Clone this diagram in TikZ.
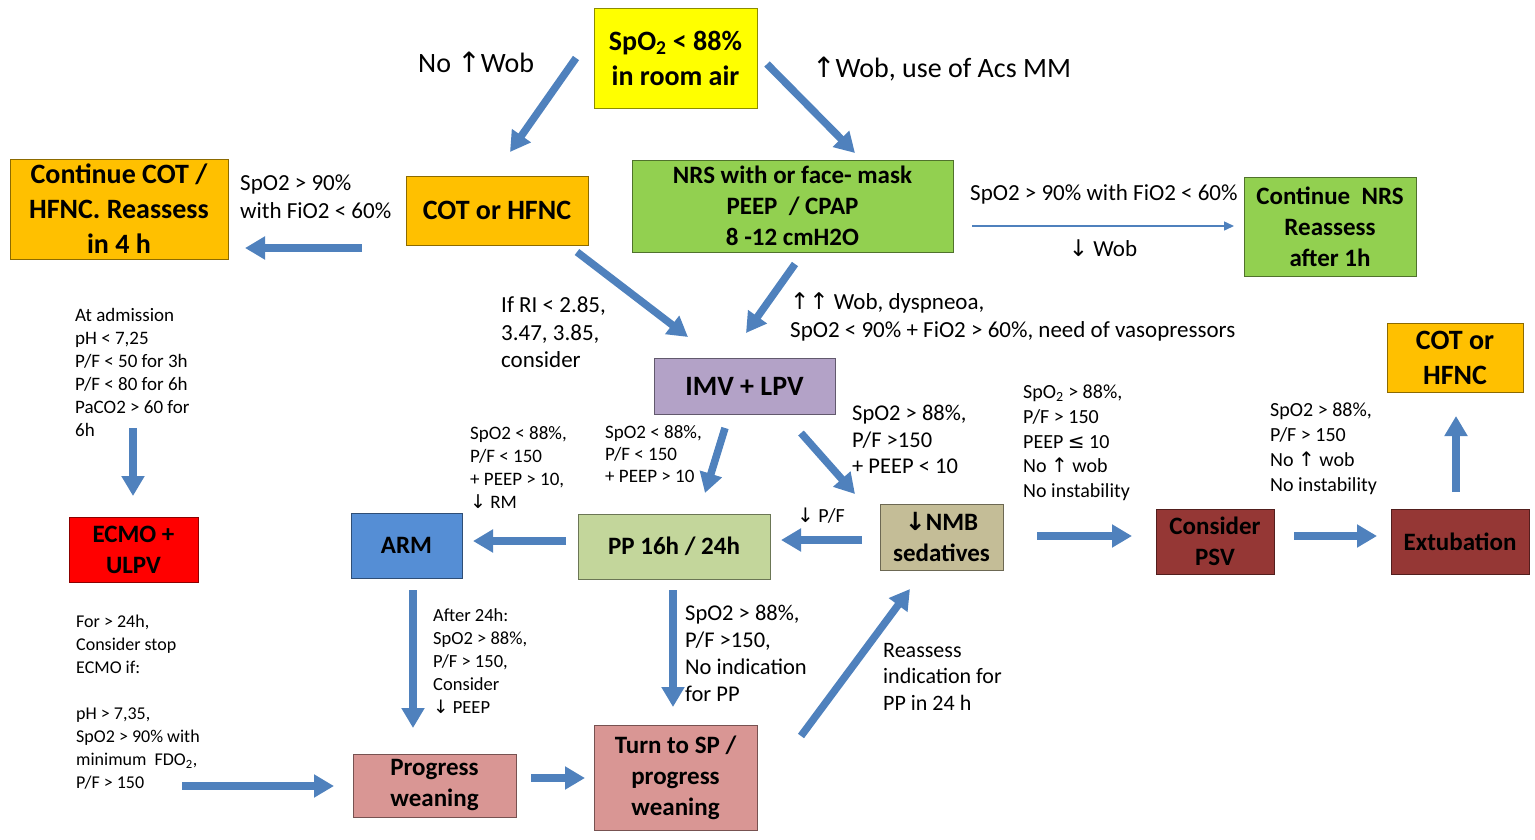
\documentclass[tikz,border=0pt]{standalone}
\usepackage{fontspec}
\setmainfont{Carlito}
\newfontfamily\symf{DejaVu Sans}
\usetikzlibrary{arrows.meta}
\definecolor{cyel}{HTML}{FFFF00}
\definecolor{corg}{HTML}{FFC000}
\definecolor{cgrn}{HTML}{92D050}
\definecolor{cpur}{HTML}{B3A2C7}
\definecolor{cred}{HTML}{FF0000}
\definecolor{cblu}{HTML}{558ED5}
\definecolor{clgr}{HTML}{C3D69B}
\definecolor{ctan}{HTML}{C4BD97}
\definecolor{cdrd}{HTML}{953735}
\definecolor{cpnk}{HTML}{D99694}
\definecolor{arrowblue}{HTML}{4F81BD}
\newcommand\myup{{\symf ↑}}
\newcommand\mydown{{\symf ↓}}
\newcommand\myle{{\symf ≤}}
\tikzset{
  box/.style={draw=#1!55!black, fill=#1, line width=1pt, inner sep=0pt, align=center, text=black},
  bigtxt/.style={font=\fontsize{28}{35}\selectfont\bfseries},
  medtxt/.style={font=\fontsize{25}{31}\selectfont\bfseries},
  lbl/.style={inner sep=0pt, align=left, anchor=north west},
  fat/.style={draw=arrowblue, line width=7.5pt, -{Triangle[length=20pt,width=22pt]}},
  thin/.style={draw=arrowblue, line width=1.5pt, -{Triangle[length=10pt,width=9pt]}}
}
\begin{document}
\begin{tikzpicture}[x=1pt,y=-1pt]
\useasboundingbox (0,0) rectangle (1535,839);
% boxes
\node[box=cyel, bigtxt, minimum width=163pt, minimum height=100pt] (spo2) at (675.5,58) {SpO\textsubscript{2} < 88\%\\in room air};
\node[box=corg, bigtxt, minimum width=218pt, minimum height=100pt] (cont) at (119,209) {Continue COT /\\HFNC. Reassess\\in 4 h};
\node[box=corg, bigtxt, minimum width=182pt, minimum height=69pt] (cot) at (497,210.5) {COT or HFNC};
\node[box=cgrn, medtxt, minimum width=321pt, minimum height=92pt] (nrs) at (792.5,206) {NRS with or face- mask\\PEEP~ / CPAP\\8 -12 cmH2O};
\node[box=cgrn, medtxt, minimum width=172pt, minimum height=99pt] (contnrs) at (1330,226.5) {Continue~ NRS\\Reassess\\after 1h};
\node[box=cpur, bigtxt, minimum width=181pt, minimum height=56pt] (imv) at (744.5,386) {IMV + LPV};
\node[box=corg, bigtxt, minimum width=136pt, minimum height=69pt] (cot2) at (1455,357.5) {COT or\\HFNC};
\node[box=cred, medtxt, minimum width=129pt, minimum height=65pt] (ecmo) at (133.5,549.5) {ECMO +\\ULPV};
\node[box=cblu, medtxt, minimum width=111pt, minimum height=65pt] (arm) at (406.5,545.5) {ARM};
\node[box=clgr, medtxt, minimum width=192pt, minimum height=65pt] (pp) at (674,546.5) {PP 16h / 24h};
\node[box=ctan, medtxt, minimum width=123pt, minimum height=66pt] (nmb) at (941.5,537) {\mydown NMB\\sedatives};
\node[box=cdrd, medtxt, minimum width=118pt, minimum height=65pt] (psv) at (1215,541.5) {Consider\\PSV};
\node[box=cdrd, medtxt, minimum width=138pt, minimum height=65pt] (extub) at (1460,541.5) {Extubation};
\node[box=cpnk, medtxt, minimum width=163pt, minimum height=63pt] (prog) at (434.5,785.5) {Progress\\weaning};
\node[box=cpnk, medtxt, minimum width=163pt, minimum height=105pt] (turn) at (675.5,777.5) {Turn to SP /\\progress\\weaning};
% labels
\node[inner sep=0pt, anchor=west, font=\fontsize{28}{33}\selectfont] (l1) at (418,62) {No \myup Wob};
\node[inner sep=0pt, anchor=west, font=\fontsize{28}{33}\selectfont] (l2) at (812,69) {\myup Wob, use of Acs MM};
\node[lbl, font=\fontsize{23}{28}\selectfont] (l3) at (240,175) {SpO2 > 90\%\\with FiO2 < 60\%};
\node[inner sep=0pt, anchor=west, font=\fontsize{23}{28}\selectfont] (l4) at (970,194) {SpO2 > 90\% with FiO2 < 60\%};
\node[inner sep=0pt, font=\fontsize{23}{28}\selectfont] (l5) at (1103,248) {\mydown\ Wob};
\node[lbl, font=\fontsize{23}{27.5}\selectfont] (l6) at (501,297) {If RI < 2.85,\\3.47, 3.85,\\consider};
\node[lbl, font=\fontsize{23}{28}\selectfont] (l7) at (790,292) {\myup\myup\ Wob, dyspneoa,\\SpO2 < 90\% + FiO2 > 60\%, need of vasopressors};
\node[lbl, font=\fontsize{19}{23}\selectfont] (l8) at (75,308) {At admission\\pH < 7,25\\P/F < 50 for 3h\\P/F < 80 for 6h\\PaCO2 > 60 for\\6h};
\node[lbl, font=\fontsize{19}{23}\selectfont] (l9) at (470,426) {SpO2 < 88\%,\\P/F < 150\\+ PEEP > 10,\\\mydown\ RM};
\node[lbl, font=\fontsize{19}{22}\selectfont] (l10) at (605,425) {SpO2 < 88\%,\\P/F < 150\\+ PEEP > 10};
\node[lbl, font=\fontsize{22.5}{26.5}\selectfont] (l11) at (852,405) {SpO2 > 88\%,\\P/F >150\\+ PEEP < 10};
\node[lbl, font=\fontsize{20}{24.7}\selectfont] (l12) at (1023,385) {SpO\textsubscript{2} > 88\%,\\P/F > 150\\PEEP \myle\ 10\\No \myup\ wob\\No instability};
\node[lbl, font=\fontsize{20}{24}\selectfont] (l13) at (797,508) {\mydown\ P/F};
\node[lbl, font=\fontsize{20}{25}\selectfont] (l14) at (1270,403) {SpO2 > 88\%,\\P/F > 150\\No \myup\ wob\\No instability};
\node[lbl, font=\fontsize{18}{23}\selectfont] (l15) at (76,615) {For > 24h,\\Consider stop\\ECMO if:\\[23pt]pH > 7,35,\\SpO2 > 90\% with\\minimum~ FDO\textsubscript{2},\\P/F > 150};
\node[lbl, font=\fontsize{18.5}{23}\selectfont] (l16) at (433,608) {After 24h:\\SpO2 > 88\%,\\P/F > 150,\\Consider\\\mydown\ PEEP};
\node[lbl, font=\fontsize{22.5}{27}\selectfont] (l17) at (685,605) {SpO2 > 88\%,\\P/F >150,\\No indication\\for PP};
\node[lbl, font=\fontsize{22}{26.5}\selectfont] (l18) at (883,643) {Reassess\\indication for\\PP in 24 h};
% arrow end points
\coordinate (a1s) at (576,58);   \coordinate (a1e) at (510,152);
\coordinate (a2s) at (767,64);   \coordinate (a2e) at (855,153);
\coordinate (a3s) at (362,248);  \coordinate (a3e) at (245,248);
\coordinate (a4s) at (972,226);  \coordinate (a4e) at (1234,226);
\coordinate (a5s) at (577,252);  \coordinate (a5e) at (688,337);
\coordinate (a6s) at (795,264);  \coordinate (a6e) at (746,333);
\coordinate (a7s) at (133,428);  \coordinate (a7e) at (133,496);
\coordinate (a8s) at (725,428);  \coordinate (a8e) at (705,493);
\coordinate (a9s) at (801,433);  \coordinate (a9e) at (855,494);
\coordinate (a10s) at (862,540); \coordinate (a10e) at (781,540);
\coordinate (a11s) at (566,541); \coordinate (a11e) at (473,541);
\coordinate (a12s) at (1037,536);\coordinate (a12e) at (1132,536);
\coordinate (a13s) at (1294,536);\coordinate (a13e) at (1377,536);
\coordinate (a14s) at (1456,492);\coordinate (a14e) at (1456,416);
\coordinate (a15s) at (413,590); \coordinate (a15e) at (413,728);
\coordinate (a16s) at (673,590); \coordinate (a16e) at (673,707);
\coordinate (a17s) at (801,736); \coordinate (a17e) at (910,589);
\coordinate (a18s) at (531,778); \coordinate (a18e) at (585,778);
\coordinate (a19s) at (182,786); \coordinate (a19e) at (334,786);
% arrows
\draw[fat] (a1s) -- (a1e);
\draw[fat] (a2s) -- (a2e);
\draw[fat] (a3s) -- (a3e);
\draw[thin] (a4s) -- (a4e);
\draw[fat] (a5s) -- (a5e);
\draw[fat] (a6s) -- (a6e);
\draw[fat] (a7s) -- (a7e);
\draw[fat] (a8s) -- (a8e);
\draw[fat] (a9s) -- (a9e);
\draw[fat] (a10s) -- (a10e);
\draw[fat] (a11s) -- (a11e);
\draw[fat] (a12s) -- (a12e);
\draw[fat] (a13s) -- (a13e);
\draw[fat] (a14s) -- (a14e);
\draw[fat] (a15s) -- (a15e);
\draw[fat] (a16s) -- (a16e);
\draw[fat] (a17s) -- (a17e);
\draw[fat] (a18s) -- (a18e);
\draw[fat] (a19s) -- (a19e);
\end{tikzpicture}
\end{document}
